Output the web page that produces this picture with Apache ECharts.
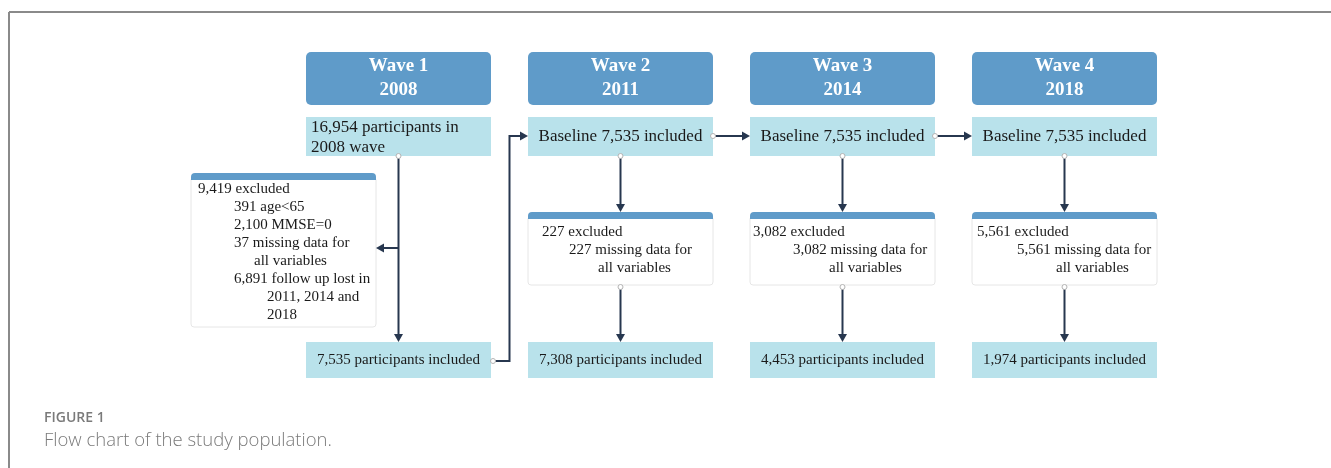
<!DOCTYPE html>
<html>
<head>
<meta charset="utf-8">
<script src="https://cdn.jsdelivr.net/npm/echarts@6/dist/echarts.min.js"></script>
<style>
html, body { margin: 0; padding: 0; background: #fff; }
#main { width: 1331px; height: 468px; }
</style>
</head>
<body>
<div id="main"></div>
<script>
// data
var waves = ['Wave 1', 'Wave 2', 'Wave 3', 'Wave 4'];
var years = ['2008', '2011', '2014', '2018'];
var startTexts = [
	'16,954 participants in\n2008 wave',
	'Baseline 7,535 included',
	'Baseline 7,535 included',
	'Baseline 7,535 included'
];
var excludedLines = [
	['9,419 excluded', '391 age<65', '2,100 MMSE=0', '37 missing data for', 'all variables',
		'6,891 follow up lost in', '2011, 2014 and', '2018'],
	['227 excluded', '227 missing data for', 'all variables'],
	['3,082 excluded', '3,082 missing data for', 'all variables'],
	['5,561 excluded', '5,561 missing data for', 'all variables']
];
var includedTexts = [
	'7,535 participants included',
	'7,308 participants included',
	'4,453 participants included',
	'1,974 participants included'
];

// layout (pixels on the hidden y axis) and styles
var BOX_W = 185;
var L = {
	headTop: 52, headBot: 105,
	startTop: 117, startBot: 156, linkY: 136,
	exTop: 212, exBot: 285, exTop1: 173, exBot1: 327,
	endTop: 342, endBot: 378, branchY: 248
};
var INDENTS = [[7, 43, 43, 43, 63, 43, 76, 76], [14, 41, 70], [3, 43, 79], [5, 45, 84]];
var C = { head: '#5f9bc9', light: '#b9e2eb', line: '#27374f', text: '#1a1a1a', border: '#e6e6e6' };
var SERIF = '"Liberation Serif", "DejaVu Serif", serif';

function txt(x, y, s, font, align, lh) {
	return {
		type: 'text', x: x, y: y,
		style: {
			text: s, font: font, fill: C.text, lineHeight: lh || 18,
			align: align, verticalAlign: 'middle',
			textAlign: align, textVerticalAlign: 'middle'
		}
	};
}

function arrow(pts) {
	var n = pts.length, a = pts[n - 2], b = pts[n - 1];
	var dx = b[0] - a[0], dy = b[1] - a[1];
	var len = Math.sqrt(dx * dx + dy * dy), ux = dx / len, uy = dy / len;
	var hl = 8, hw = 4.5;
	var base = [b[0] - ux * hl, b[1] - uy * hl];
	return [{
		type: 'polyline',
		shape: { points: pts.slice(0, n - 1).concat([base]) },
		style: { stroke: C.line, lineWidth: 2, fill: null }
	}, {
		type: 'polygon',
		shape: { points: [b, [base[0] - uy * hw, base[1] + ux * hw], [base[0] + uy * hw, base[1] - ux * hw]] },
		style: { fill: C.line }
	}];
}

function dot(x, y) {
	return { type: 'circle', shape: { cx: x, cy: y, r: 2.5 }, style: { fill: '#fff', stroke: '#b4b4b4', lineWidth: 1 } };
}

function renderWave(params, api) {
	var i = api.value(0);
	var cx = api.coord([i, 0])[0];
	var band = api.size([1, 0])[0];
	function Y(v) { return api.coord([i, v])[1]; }
	var x0 = cx - BOX_W / 2, x1 = cx + BOX_W / 2;
	var boxes = [], lines = [], dots = [];

	// header
	boxes.push({ type: 'rect', shape: { x: x0, y: Y(L.headTop), width: BOX_W, height: Y(L.headBot) - Y(L.headTop), r: 5 }, style: { fill: C.head } });
	var ht = txt(cx, (Y(L.headTop) + Y(L.headBot)) / 2, waves[i] + '\n' + years[i], 'bold 19px ' + SERIF, 'center', 24);
	ht.style.fill = '#ffffff';
	boxes.push(ht);

	// start box
	boxes.push({ type: 'rect', shape: { x: x0, y: Y(L.startTop), width: BOX_W, height: Y(L.startBot) - Y(L.startTop) }, style: { fill: C.light } });
	if (i === 0) {
		boxes.push(txt(x0 + 5, (Y(L.startTop) + Y(L.startBot)) / 2 + 1, startTexts[i], '17px ' + SERIF, 'left', 20));
	} else {
		boxes.push(txt(cx, (Y(L.startTop) + Y(L.startBot)) / 2, startTexts[i], '17px ' + SERIF, 'center'));
	}

	// exclusion box
	var exL, exR, exT, exB, firstY;
	if (i === 0) {
		exL = cx - 207.5; exR = cx - 22.5; exT = Y(L.exTop1); exB = Y(L.exBot1); firstY = exT + 16;
	} else {
		exL = x0; exR = x1; exT = Y(L.exTop); exB = Y(L.exBot); firstY = exT + 20;
	}
	boxes.push({ type: 'rect', shape: { x: exL, y: exT + 4, width: exR - exL, height: exB - exT - 4, r: 3 }, style: { fill: '#fff', stroke: C.border, lineWidth: 1 } });
	boxes.push({ type: 'rect', shape: { x: exL, y: exT, width: exR - exL, height: 7, r: [4, 4, 0, 0] }, style: { fill: C.head } });
	excludedLines[i].forEach(function (s, j) {
		boxes.push(txt(exL + INDENTS[i][j], firstY + j * 18, s, '15px ' + SERIF, 'left'));
	});

	// end box
	boxes.push({ type: 'rect', shape: { x: x0, y: Y(L.endTop), width: BOX_W, height: Y(L.endBot) - Y(L.endTop) }, style: { fill: C.light } });
	boxes.push(txt(cx, (Y(L.endTop) + Y(L.endBot)) / 2, includedTexts[i], '15px ' + SERIF, 'center'));

	// arrows
	if (i === 0) {
		lines = lines.concat(arrow([[cx, Y(L.startBot)], [cx, Y(L.endTop)]]));
		lines = lines.concat(arrow([[cx, Y(L.branchY)], [exR, Y(L.branchY)]]));
		var ey = (Y(L.endTop) + Y(L.endBot)) / 2 + 1;
		lines = lines.concat(arrow([[x1 + 2, ey], [cx + band / 2, ey], [cx + band / 2, Y(L.linkY)], [cx + band - BOX_W / 2, Y(L.linkY)]]));
		dots.push(dot(cx, Y(L.startBot)), dot(x1 + 2, ey));
	} else {
		lines = lines.concat(arrow([[cx, Y(L.startBot)], [cx, exT]]));
		lines = lines.concat(arrow([[cx, exB + 2], [cx, Y(L.endTop)]]));
		dots.push(dot(cx, Y(L.startBot)), dot(cx, exB + 2));
		if (i < waves.length - 1) {
			lines = lines.concat(arrow([[x1, Y(L.linkY)], [cx + band - BOX_W / 2, Y(L.linkY)]]));
			dots.push(dot(x1, Y(L.linkY)));
		}
	}
	return { type: 'group', children: boxes.concat(lines, dots) };
}

var chart = echarts.init(document.getElementById('main'));
chart.setOption({
	animation: false,
	title: {
		text: 'FIGURE 1',
		subtext: 'Flow chart of the study population.',
		left: 44, top: 411, padding: 0, itemGap: 6,
		textStyle: { fontFamily: '"Open Sans", sans-serif', fontSize: 14, fontWeight: 600, color: '#7a7a7a' },
		subtextStyle: { fontFamily: '"Open Sans", sans-serif', fontSize: 18.5, fontWeight: 300, color: '#7a7a7a' }
	},
	graphic: [
		{ type: 'line', shape: { x1: 9, y1: 12, x2: 1331, y2: 12 }, style: { stroke: '#8a8a8a', lineWidth: 2 } },
		{ type: 'line', shape: { x1: 9, y1: 12, x2: 9, y2: 468 }, style: { stroke: '#8a8a8a', lineWidth: 2 } }
	],
	grid: { left: 287.5, right: 155.5, top: 0, bottom: 0 },
	xAxis: { type: 'category', data: waves, show: false },
	yAxis: { type: 'value', min: 0, max: 468, inverse: true, show: false },
	series: [{
		type: 'custom',
		renderItem: renderWave,
		data: waves.map(function (w, i) { return [i, 0]; }),
		silent: true
	}]
});
</script>
</body>
</html>
